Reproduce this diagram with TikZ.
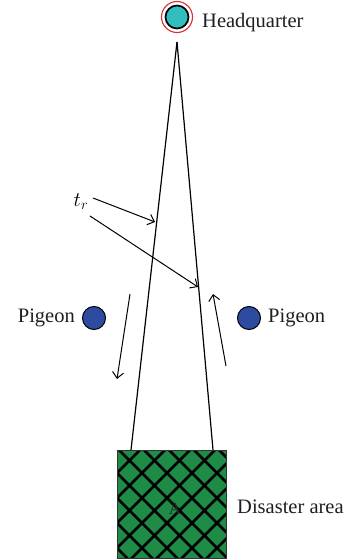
\documentclass[tikz,border=0pt]{standalone}
\usepackage{fontspec}
\setmainfont{Liberation Serif}
\usetikzlibrary{arrows.meta, positioning}
\definecolor{hqred}{RGB}{220,45,50}
\definecolor{hqteal}{RGB}{50,190,190}
\definecolor{pigblue}{RGB}{45,75,160}
\definecolor{areagreen}{RGB}{30,140,70}

\begin{document}
\begin{tikzpicture}[x=1pt, y=-1pt,
  lbl/.style={inner sep=0pt, font=\fontsize{20.5}{24}\selectfont, text=black!88},
  pigeon/.style={circle, draw=black, line width=1pt, fill=pigblue,
                 minimum size=23pt, inner sep=0pt},
  flight/.style={-{Straight Barb[length=6pt, width=11pt]}, line width=1pt}]
\useasboundingbox (0,0) rectangle (347,560);

%% headquarter on top
\node[circle, draw=hqred, line width=1.1pt, minimum size=31pt, inner sep=0pt]
  (hqring) at (177,17) {};
\node[circle, draw=black, line width=1.7pt, fill=hqteal, minimum size=23pt,
      inner sep=0pt] (hq) at (177,17) {};
\node[lbl, anchor=base west] (hqlbl) at (202,27) {Headquarter};

%% disaster area with cross hatch
\node[draw=black!80, line width=0.8pt, fill=areagreen, minimum width=109pt,
      minimum height=108pt, anchor=north west, inner sep=0pt]
  (area) at (117,450) {};
\begin{scope}
  \clip (117,450) rectangle (226,558);
  \foreach \k in {-5,...,5}
    \draw[line width=2.6pt] (119+\k*25, 450) -- ++(130,130);
  \foreach \k in {0,...,10}
    \draw[line width=2.6pt] (115+\k*25, 450) -- ++(-130,130);
\end{scope}
\draw[black!80, line width=0.8pt] (area.north west) rectangle (area.south east);
\node[font=\fontsize{17}{20}\selectfont, text=black!85] (alabel) at (175,509) {A};
\node[lbl, anchor=base west] (arealbl) at (237,513) {Disaster area};

%% the two legs between headquarter and area
\coordinate (apex) at (177,42);
\coordinate (legL) at (131,450);
\coordinate (legR) at (213,450);
\draw[line width=1.2pt] (apex) -- (legL);
\draw[line width=1.2pt] (apex) -- (legR);

%% pigeons
\node[pigeon] (pigL) at (94,318) {};
\node[lbl, left=7pt of pigL] (pigLlbl) {Pigeon};
\node[pigeon] (pigR) at (249,318) {};
\node[lbl, right=7pt of pigR] (pigRlbl) {Pigeon};

%% flight directions
\coordinate (outS) at (130,294);
\coordinate (outE) at (117,379);
\draw[flight] (outS) -- (outE);
\coordinate (backS) at (226,366);
\coordinate (backE) at (213,294);
\draw[flight] (backS) -- (backE);

%% t_r markers
\node[font=\fontsize{20}{24}\selectfont, inner sep=1pt] (tr) at (81,202) {$t_r$};
\coordinate (trA) at (93,198);
\coordinate (trB) at (90,216);
\coordinate (hitL) at (155,222);
\coordinate (hitR) at (198,287);
\draw[flight] (trA) -- (hitL);
\draw[flight] (trB) -- (hitR);
\end{tikzpicture}
\end{document}
